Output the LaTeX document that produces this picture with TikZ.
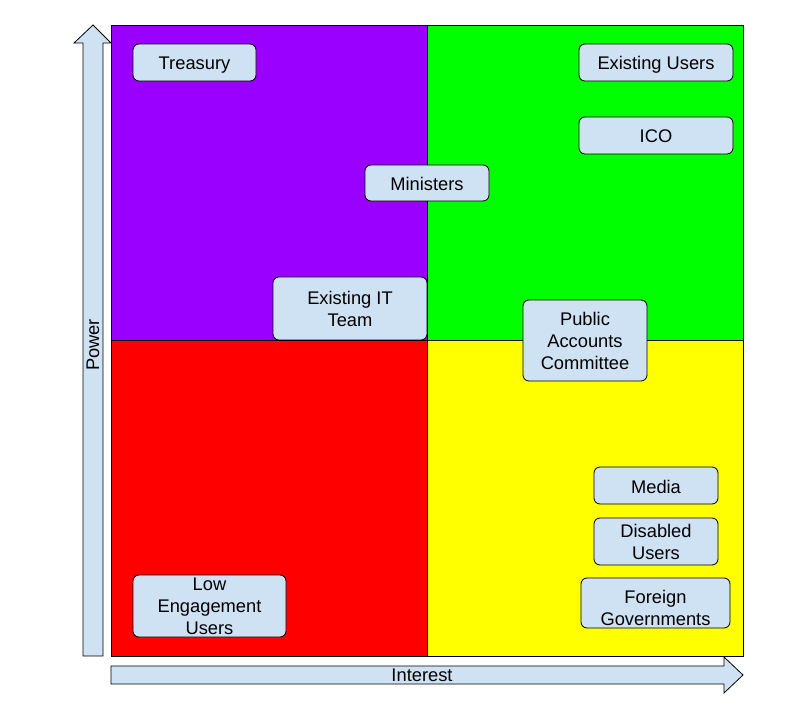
\documentclass[tikz,border=0pt]{standalone}
\usepackage{fontspec}
\setmainfont{Liberation Sans}
\usetikzlibrary{calc}

\definecolor{quadpurple}{HTML}{9900FF}
\definecolor{quadgreen}{HTML}{00FF00}
\definecolor{quadred}{HTML}{FF0000}
\definecolor{quadyellow}{HTML}{FFFF00}
\definecolor{boxblue}{HTML}{CFE2F3}

\begin{document}
\begin{tikzpicture}[x=1pt,y=-1pt,line width=0.8pt,
    party/.style={draw=black,fill=boxblue,rounded corners=6pt,align=center,
      inner sep=0pt,font=\fontsize{18.3}{22}\selectfont},
    oneline/.style={party,text height=16pt,text depth=1pt},
    axislabel/.style={font=\fontsize{18.3}{22}\selectfont}]
  \useasboundingbox (0,0) rectangle (790,719);
  % quadrants
  \coordinate (TL) at (111,25);
  \coordinate (C) at (427,340);
  \coordinate (BR) at (743,656);
  \filldraw[fill=quadpurple] (TL) rectangle (C);
  \filldraw[fill=quadgreen] (C |- TL) rectangle (BR |- C);
  \filldraw[fill=quadred] (TL |- C) rectangle (C |- BR);
  \filldraw[fill=quadyellow] (C) rectangle (BR);
  % axes
  \filldraw[fill=boxblue] (83,656) -- (83,43) -- (74,43) -- (93,25) -- (111,43)
    -- (103,43) -- (103,656) -- cycle;
  \filldraw[fill=boxblue] (111,666) -- (724,666) -- (724,657) -- (743,675)
    -- (724,693) -- (724,684) -- (111,684) -- cycle;
  \node[axislabel,rotate=90] (power) at (93,345) {Power};
  \node[axislabel] (interest) at (422,675.5) {Interest};
  % stakeholders
  \node[oneline,minimum width=123pt,minimum height=37pt] (treasury) at (194.5,62.5) {Treasury};
  \node[oneline,minimum width=154pt,minimum height=37pt] (users) at (656,62.5) {Existing Users};
  \node[oneline,minimum width=154pt,minimum height=37pt] (ico) at (656,135.5) {ICO};
  \node[oneline,minimum width=124pt,minimum height=36pt] (ministers) at (427,183) {Ministers};
  \node[party,minimum width=154pt,minimum height=63pt] (itteam) at (350,308.5) {Existing IT\\Team};
  \node[party,minimum width=124pt,minimum height=81pt] (pac) at (585,340.5) {Public\\Accounts\\Committee};
  \node[oneline,minimum width=124pt,minimum height=37pt] (media) at (656,485.5) {Media};
  \node[party,minimum width=124pt,minimum height=47pt] (disabled) at (656,541.5) {Disabled\\Users};
  \node[party,text height=44pt,text depth=0pt,minimum width=149pt,minimum height=50pt] (foreign) at (655.5,603) {Foreign\\Governments};
  \node[party,minimum width=153pt,minimum height=62pt] (lowusers) at (209.5,606) {Low\\Engagement\\Users};
\end{tikzpicture}
\end{document}
